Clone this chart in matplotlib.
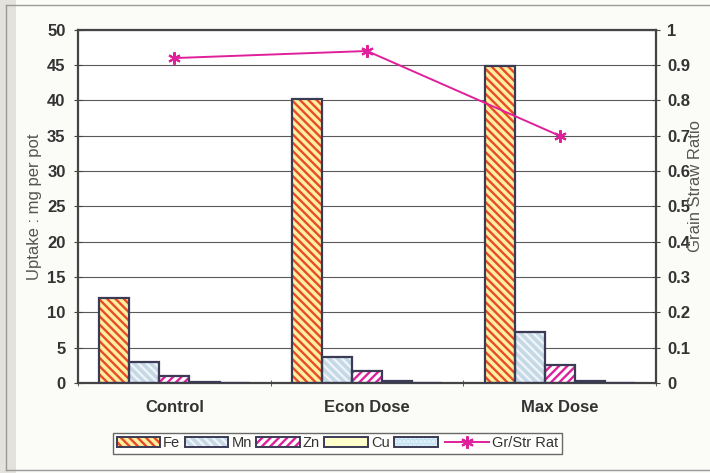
import matplotlib
matplotlib.use("Agg")
import matplotlib.pyplot as plt
import numpy as np
from matplotlib.patches import Patch, Rectangle
from matplotlib.lines import Line2D
from matplotlib.legend_handler import HandlerTuple

# Nutrient uptake (mg per pot) by treatment, plus grain/straw ratio
categories = ["Control", "Econ Dose", "Max Dose"]
fe = [12.1, 40.2, 44.9]
mn = [3.0, 3.7, 7.3]
zn = [1.0, 1.7, 2.5]
cu = [0.2, 0.25, 0.3]
other = [0.0, 0.0, 0.0]
gr_str_ratio = [0.92, 0.94, 0.70]

series_names = ["Fe", "Mn", "Zn", "Cu", ""]
series_values = [fe, mn, zn, cu, other]

plt.rcParams["font.family"] = ["Liberation Sans", "DejaVu Sans"]
plt.rcParams["hatch.linewidth"] = 1.7

# face colour, hatch colour, hatch pattern
styles = [
    ("#fff0a0", "#e84a2a", "\\\\\\\\"),
    ("#c4d8e6", "#eef4f8", "\\\\\\\\"),
    ("#ffffff", "#e0209a", "////"),
    ("#ffffcc", None, None),
    ("#c4e2f2", "#e6f4fa", "...."),
]
edge = "#3b3b55"
text_col = "#333333"
label_col = "#555555"

fig = plt.figure(figsize=(7.10, 4.73), dpi=100)
fig.patch.set_facecolor("#fbfbf8")

# scanned-page style border and shaded left margin
fig.patches.append(Rectangle((0, 0), 0.022, 1, transform=fig.transFigure,
                             facecolor="#e4e2dc", edgecolor="none", zorder=0))
for xs, ys in [([0.009, 0.009], [0.006, 0.989]),
               ([0.009, 1.0], [0.989, 0.989]),
               ([0.009, 1.0], [0.006, 0.006])]:
    fig.lines.append(Line2D(xs, ys, transform=fig.transFigure,
                            color="#9a9a9a", lw=1.0))

ax = fig.add_axes([0.110, 0.190, 0.814, 0.747])
ax.set_facecolor("white")

x = np.arange(len(categories))
width = 0.156
offsets = (np.arange(5) - 2) * width

handles = []
for vals, (face, hcol, hatch), off in zip(series_values, styles, offsets):
    if hatch:
        ax.bar(x + off, vals, width, color=face, edgecolor=hcol, hatch=hatch,
               linewidth=0, zorder=2)
    else:
        ax.bar(x + off, vals, width, color=face, linewidth=0, zorder=2)
    ax.bar(x + off, vals, width, fill=False, edgecolor=edge, linewidth=1.6, zorder=3)
    p1 = Patch(facecolor=face, edgecolor=hcol if hcol else face,
               hatch=hatch, linewidth=0)
    p2 = Patch(fill=False, edgecolor=edge, linewidth=1.4)
    handles.append((p1, p2))

ax.set_xlim(-0.5, 2.5)
ax.set_ylim(0, 50)
ax.set_yticks(np.arange(0, 51, 5))
ax.set_xticks([-0.5, 0.5, 1.5, 2.5], minor=True)
ax.set_xticks(x)
ax.set_xticklabels(categories, fontsize=12, fontweight="bold", color=text_col)
ax.tick_params(axis="x", which="major", length=0, pad=12)
ax.tick_params(axis="x", which="minor", length=4, direction="inout", color="#444")
ax.tick_params(axis="y", labelsize=12, labelcolor=text_col, length=6,
               direction="inout", color="#444", pad=6)
for lab in ax.get_yticklabels():
    lab.set_fontweight("bold")
ax.yaxis.grid(True, color="#5a5a5a", linewidth=0.8, zorder=0)
ax.set_axisbelow(True)
for s in ax.spines.values():
    s.set_color("#444444")
    s.set_linewidth(1.6)
ax.set_ylabel("Uptake : mg per pot", fontsize=12, color=label_col, labelpad=4)

ax2 = ax.twinx()
ax2.set_ylim(0, 1)
ax2.set_yticks(np.round(np.arange(0, 1.01, 0.1), 1))
ax2.set_yticklabels(["0", "0.1", "0.2", "0.3", "0.4", "0.5", "0.6", "0.7", "0.8", "0.9", "1"])
ax2.tick_params(axis="y", labelsize=12, labelcolor=text_col, length=6,
                direction="inout", color="#444", pad=5)
for lab in ax2.get_yticklabels():
    lab.set_fontweight("bold")
for s in ax2.spines.values():
    s.set_visible(False)
line_col = "#e0209a"
ln, = ax2.plot(x, gr_str_ratio, color=line_col, linewidth=1.4,
               marker=(6, 2, 0), markersize=9, markeredgewidth=1.5, zorder=5)
fig.text(0.980, 0.607, "Grain Straw Ratio", rotation=90, fontsize=12,
         color=label_col, ha="center", va="center")

leg_handles = handles + [ln]
leg_labels = series_names + ["Gr/Str Rat"]
leg = fig.legend(leg_handles, leg_labels, loc="center", bbox_to_anchor=(0.475, 0.063),
                 ncol=6, fontsize=10.5, frameon=True, fancybox=False,
                 edgecolor="#444444", handlelength=3.0, handletextpad=0.2,
                 columnspacing=0.3, borderpad=0.25,
                 handler_map={tuple: HandlerTuple(ndivide=1)})
leg.get_frame().set_linewidth(1.0)
for t in leg.get_texts():
    t.set_color(text_col)

fig.savefig("out.png", dpi=100, facecolor=fig.get_facecolor())
